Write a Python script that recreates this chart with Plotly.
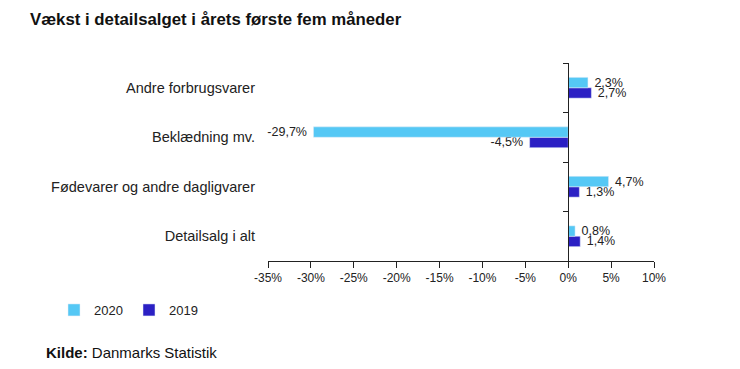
import plotly.graph_objects as go

categories = ["Detailsalg i alt", "Fødevarer og andre dagligvarer", "Beklædning mv.", "Andre forbrugsvarer"]
values_2020 = [0.8, 4.7, -29.7, 2.3]
values_2019 = [1.4, 1.3, -4.5, 2.7]
x_ticks = [-35, -30, -25, -20, -15, -10, -5, 0, 5, 10]
x_tick_labels = [f"{v}%" for v in x_ticks]

C2020 = "#55C8F5"
C2019 = "#2B20C4"

# page body has an 8px default margin, so figure coordinates = page coords - 8
OFF = 8
W, H = 740 - OFF, 369 - OFF
L = 268 - OFF
T = 63 - OFF
R = W - (654 - OFF)
B = H - (261 - OFF)

NB = "\u00a0"

def lab(vals):
    out = []
    for v in vals:
        s = f"{v:.1f}".replace(".", ",") + "%"
        out.append(NB + s if v >= 0 else s + NB)
    return out

fig = go.Figure()
fig.add_trace(go.Bar(y=categories, x=values_2019, orientation="h", name="2019",
                     marker_color=C2019, text=lab(values_2019), textposition="outside",
                     constraintext="none", cliponaxis=False,
                     textfont=dict(size=12.5, color="#222"), legendrank=2))
fig.add_trace(go.Bar(y=categories, x=values_2020, orientation="h", name="2020",
                     marker_color=C2020, text=lab(values_2020), textposition="outside",
                     constraintext="none", cliponaxis=False,
                     textfont=dict(size=12.5, color="#222"), legendrank=1))
# invisible helper trace for the zero-line category axis
fig.add_trace(go.Scatter(y=categories, x=[0] * len(categories), yaxis="y2", mode="markers",
                         marker=dict(opacity=0), showlegend=False, hoverinfo="skip"))

zero_pos = (0 - x_ticks[0]) / (x_ticks[-1] - x_ticks[0])
PW, PH = W - L - R, H - T - B

fig.update_layout(
    width=W, height=H,
    margin=dict(l=L, r=R, t=T, b=B, autoexpand=False),
    paper_bgcolor="white", plot_bgcolor="white",
    font=dict(family="Liberation Sans, Arial, sans-serif", size=12, color="#222"),
    barmode="group", bargap=0.58, bargroupgap=0,
    uniformtext=dict(minsize=12, mode="show"),
    showlegend=True,
    legend=dict(orientation="h", xref="container", yref="container",
                x=46 / W, y=1 - (310 - OFF) / H, xanchor="left", yanchor="middle",
                font=dict(size=13, color="#222"), itemwidth=30, entrywidth=30,
                traceorder="normal"),
    title=dict(text="<b>Vækst i detailsalget i årets første fem måneder</b>",
               xref="container", yref="container", x=(30 - OFF) / W, y=1 - (19 - OFF) / H,
               xanchor="left", yanchor="middle",
               font=dict(size=16.8, color="#111")),
    xaxis=dict(range=[x_ticks[0], x_ticks[-1]], tickvals=x_ticks, ticktext=x_tick_labels,
               showgrid=False, zeroline=False, showline=True, linecolor="#222", linewidth=1,
               ticks="outside", ticklen=6, tickcolor="#222", tickfont=dict(size=12, color="#222")),
    yaxis=dict(type="category", categoryorder="array", categoryarray=categories,
               range=[-0.5, len(categories) - 0.5],
               showgrid=False, zeroline=False, showline=False, ticks="",
               ticklabelstandoff=12, tickfont=dict(size=14.5, color="#222")),
    yaxis2=dict(type="category", categoryorder="array", categoryarray=categories,
                overlaying="y", matches="y", anchor="free", position=zero_pos, side="left",
                showgrid=False, zeroline=False, showline=True, linecolor="#222", linewidth=1,
                showticklabels=False, ticks="outside", ticklen=5, tickcolor="#222",
                tickson="boundaries"),
    annotations=[dict(text="<b>Kilde:</b> Danmarks Statistik", xref="paper", yref="paper",
                      x=(44 - OFF - L) / PW, y=-((352 - OFF) - (H - B)) / PH,
                      xanchor="left", yanchor="middle", showarrow=False,
                      font=dict(size=15, color="#111"))],
    separators=",.",
)

fig.write_html("out.html")
